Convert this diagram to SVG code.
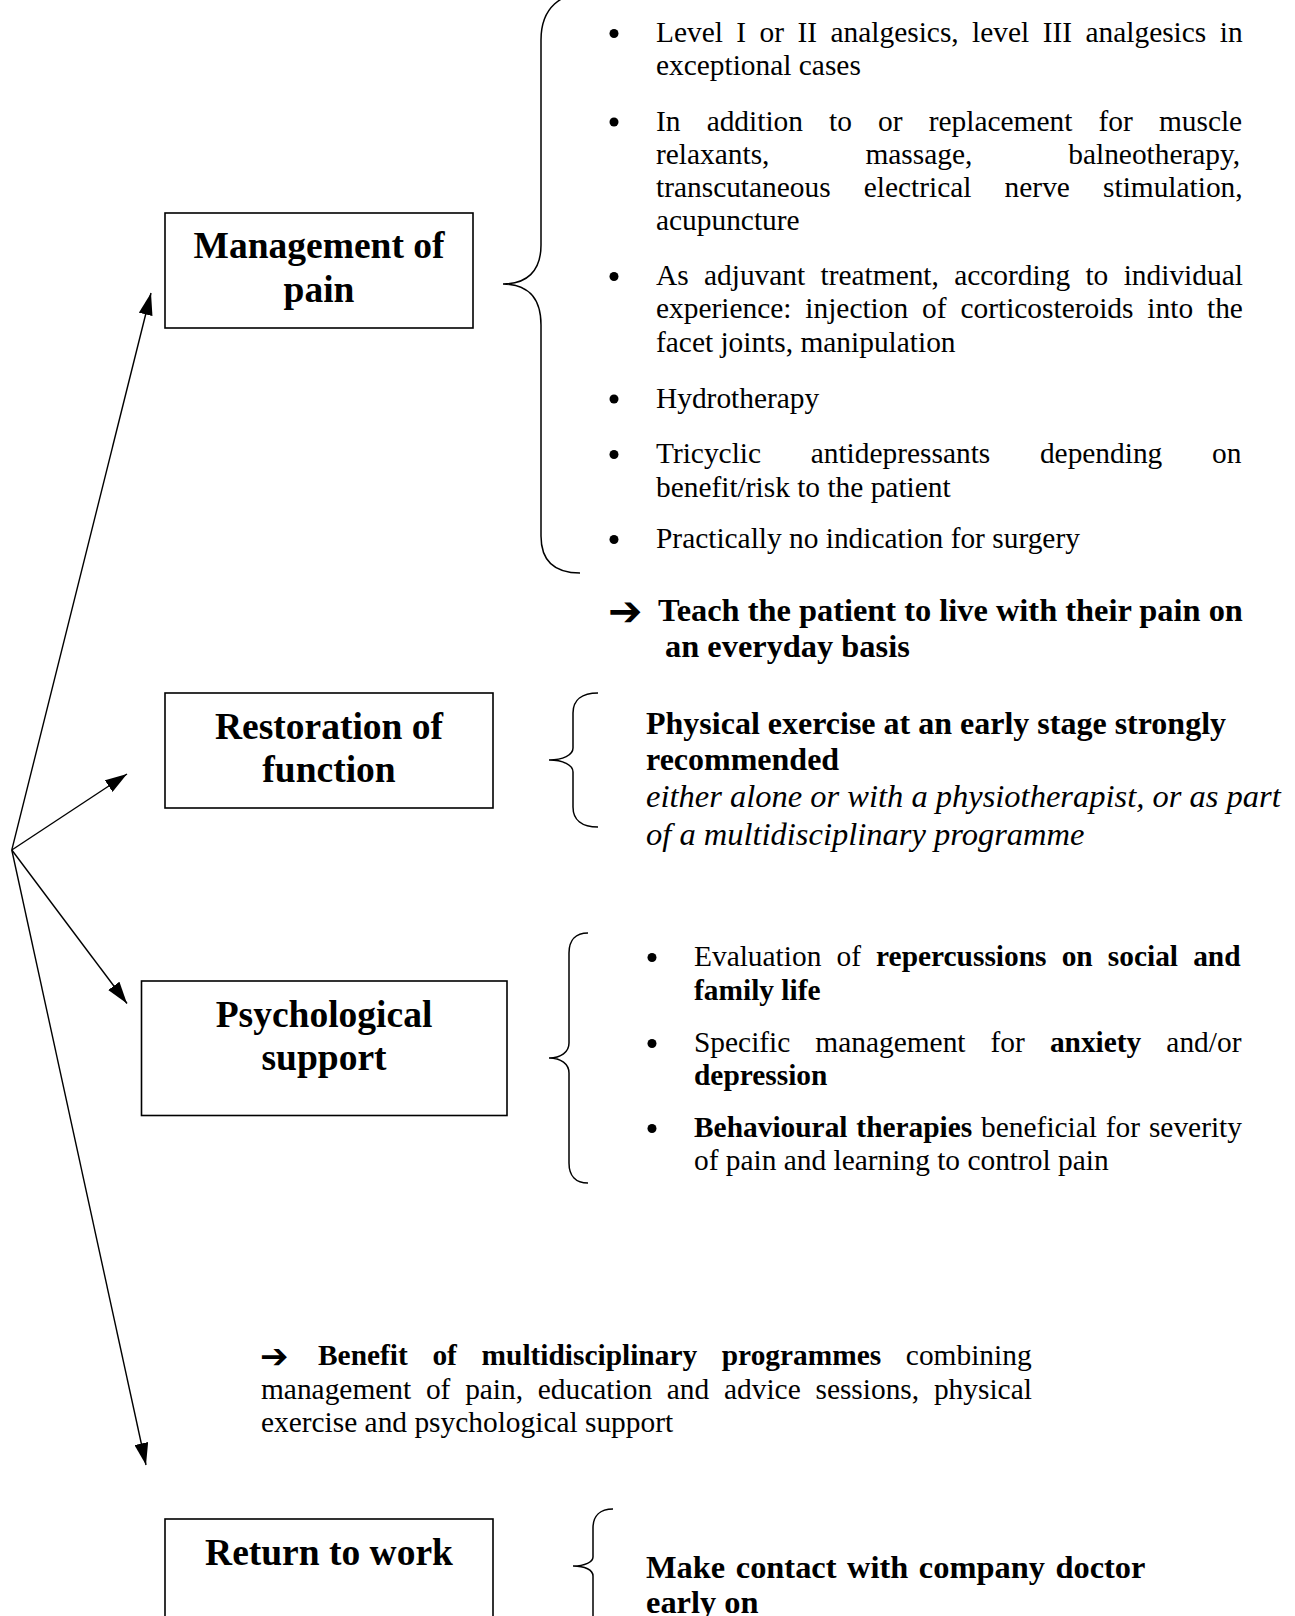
<svg xmlns="http://www.w3.org/2000/svg" width="1295" height="1616" viewBox="0 0 1295 1616">
<style>
.box{fill:#fff;stroke:#000;stroke-width:1.6}
.brace{fill:none;stroke:#000;stroke-width:1.5}
.conn{fill:none;stroke:#000;stroke-width:1.4}
.title{font-family:"Liberation Serif","Times New Roman",serif;font-weight:bold;font-size:37.5px;text-anchor:middle;fill:#000}
.body{font-family:"Liberation Serif","Times New Roman",serif;font-size:29.4px;fill:#000}
.b32{font-family:"Liberation Serif","Times New Roman",serif;font-size:32.4px;font-weight:bold;fill:#000}
.b32s{font-family:"Liberation Serif","Times New Roman",serif;font-size:32px;font-weight:bold;fill:#000}
.i32{font-family:"Liberation Serif","Times New Roman",serif;font-size:32.5px;font-style:italic;fill:#000}
.arr{font-family:"DejaVu Sans",sans-serif;fill:#000}
.bul{fill:#000}
</style>
<defs>
<marker id="ah" markerWidth="22" markerHeight="14" refX="22" refY="7" orient="auto" markerUnits="userSpaceOnUse">
<path d="M0,0 L22,7 L0,14 z" fill="#000"/>
</marker>
</defs>
<rect width="1295" height="1616" fill="#fff"/>

<g id="connectors">
<line class="conn" x1="11.8" y1="850" x2="151" y2="293" marker-end="url(#ah)"/>
<line class="conn" x1="11.8" y1="850" x2="127" y2="774" marker-end="url(#ah)"/>
<line class="conn" x1="11.8" y1="850" x2="127" y2="1003.5" marker-end="url(#ah)"/>
<line class="conn" x1="11.8" y1="850" x2="146" y2="1465" marker-end="url(#ah)"/>
</g>

<g id="node-management">
<rect class="box" x="165" y="213" width="308" height="115"/>
<text class="title" x="319" y="258">Management of</text>
<text class="title" x="319" y="302">pain</text>
</g>

<g id="brace-management">
<path class="brace" d="M592,-8 C560,-8 541,8 541,40 L541,245 C541,272 526,284 503,284 C526,284 541,296 541,325 L541,536 C541,562 556,573 580,573"/>
<circle class="bul" cx="614" cy="33.5" r="4.5"/>
<circle class="bul" cx="614" cy="122" r="4.5"/>
<circle class="bul" cx="614" cy="276.5" r="4.5"/>
<circle class="bul" cx="614" cy="399" r="4.5"/>
<circle class="bul" cx="614" cy="454.5" r="4.5"/>
<circle class="bul" cx="614" cy="539.5" r="4.5"/>
<text class="body" x="656" y="42" word-spacing="6.1">Level I or II analgesics, level III analgesics in</text>
<text class="body" x="656" y="75">exceptional cases</text>
<text class="body" x="656" y="130.5" word-spacing="18.8">In addition to or replacement for muscle</text>
<text class="body" x="656" y="163.5" word-spacing="88.6">relaxants, massage, balneotherapy,</text>
<text class="body" x="656" y="197" word-spacing="25.8">transcutaneous electrical nerve stimulation,</text>
<text class="body" x="656" y="230">acupuncture</text>
<text class="body" x="656" y="285" word-spacing="8">As adjuvant treatment, according to individual</text>
<text class="body" x="656" y="318" word-spacing="6.55">experience: injection of corticosteroids into the</text>
<text class="body" x="656" y="351.5">facet joints, manipulation</text>
<text class="body" x="656" y="407.5">Hydrotherapy</text>
<text class="body" x="656" y="463" word-spacing="42.3">Tricyclic antidepressants depending on</text>
<text class="body" x="656" y="496.5">benefit/risk to the patient</text>
<text class="body" x="656" y="548">Practically no indication for surgery</text>
</g>

<g id="note-teach">
<text class="arr" x="608" y="625" font-size="41">➔</text>
<text class="b32" x="658" y="621">Teach the patient to live with their pain on</text>
<text class="b32" x="665" y="657">an everyday basis</text>
</g>

<g id="node-restoration">
<rect class="box" x="165" y="693" width="328" height="115"/>
<text class="title" x="329" y="739">Restoration of</text>
<text class="title" x="329" y="782">function</text>
</g>

<g id="brace-restoration">
<path class="brace" d="M598,693 C582,693 573,700 573,713 L573,748 C573,755 563,760 549,760 C563,760 573,765 573,772 L573,807 C573,820 582,827 598,827"/>
<text class="b32s" x="646" y="733.5">Physical exercise at an early stage strongly</text>
<text class="b32s" x="646" y="770">recommended</text>
<text class="i32" x="646" y="807">either alone or with a physiotherapist, or as part</text>
<text class="i32" x="646" y="844.5">of a multidisciplinary programme</text>
</g>

<g id="node-psychological">
<rect class="box" x="141.5" y="981" width="365.5" height="134.5"/>
<text class="title" x="324" y="1027">Psychological</text>
<text class="title" x="324" y="1070">support</text>
</g>

<g id="brace-psychological">
<path class="brace" d="M588,933 C576,933 569,940 569,953 L569,1043 C569,1052 561,1058 549,1058 C561,1058 569,1064 569,1073 L569,1163 C569,1176 576,1183 588,1183"/>
<circle class="bul" cx="652" cy="957.5" r="4.5"/>
<circle class="bul" cx="652" cy="1043.5" r="4.5"/>
<circle class="bul" cx="652" cy="1128.5" r="4.5"/>
<text class="body" x="694" y="966" word-spacing="7.8">Evaluation of <tspan font-weight="bold">repercussions on social and</tspan></text>
<text class="body" x="694" y="999.5" font-weight="bold">family life</text>
<text class="body" x="694" y="1052" word-spacing="17.7">Specific management for <tspan font-weight="bold">anxiety</tspan> and/or</text>
<text class="body" x="694" y="1084.5" font-weight="bold">depression</text>
<text class="body" x="694" y="1137" word-spacing="1.5"><tspan font-weight="bold">Behavioural therapies</tspan> beneficial for severity</text>
<text class="body" x="694" y="1170">of pain and learning to control pain</text>
</g>

<g id="note-multidisciplinary">
<text class="arr" x="260" y="1368" font-size="34">➔</text>
<text class="body" x="318" y="1364.5" word-spacing="17.3"><tspan font-weight="bold">Benefit of multidisciplinary programmes</tspan> combining</text>
<text class="body" x="261" y="1398.5" word-spacing="7.4">management of pain, education and advice sessions, physical</text>
<text class="body" x="261" y="1432">exercise and psychological support</text>
</g>

<g id="node-return">
<rect class="box" x="165" y="1519" width="328" height="115"/>
<text class="title" x="329" y="1565">Return to work</text>
</g>

<g id="brace-return">
<path class="brace" d="M613,1509 C600,1509 593,1516 593,1528 L593,1557 C593,1562 585,1566 573,1566 C585,1566 593,1570 593,1576 L593,1622"/>
<text class="b32" x="646" y="1578" word-spacing="2.5">Make contact with company doctor</text>
<text class="b32" x="646" y="1613">early on</text>
</g>
</svg>
